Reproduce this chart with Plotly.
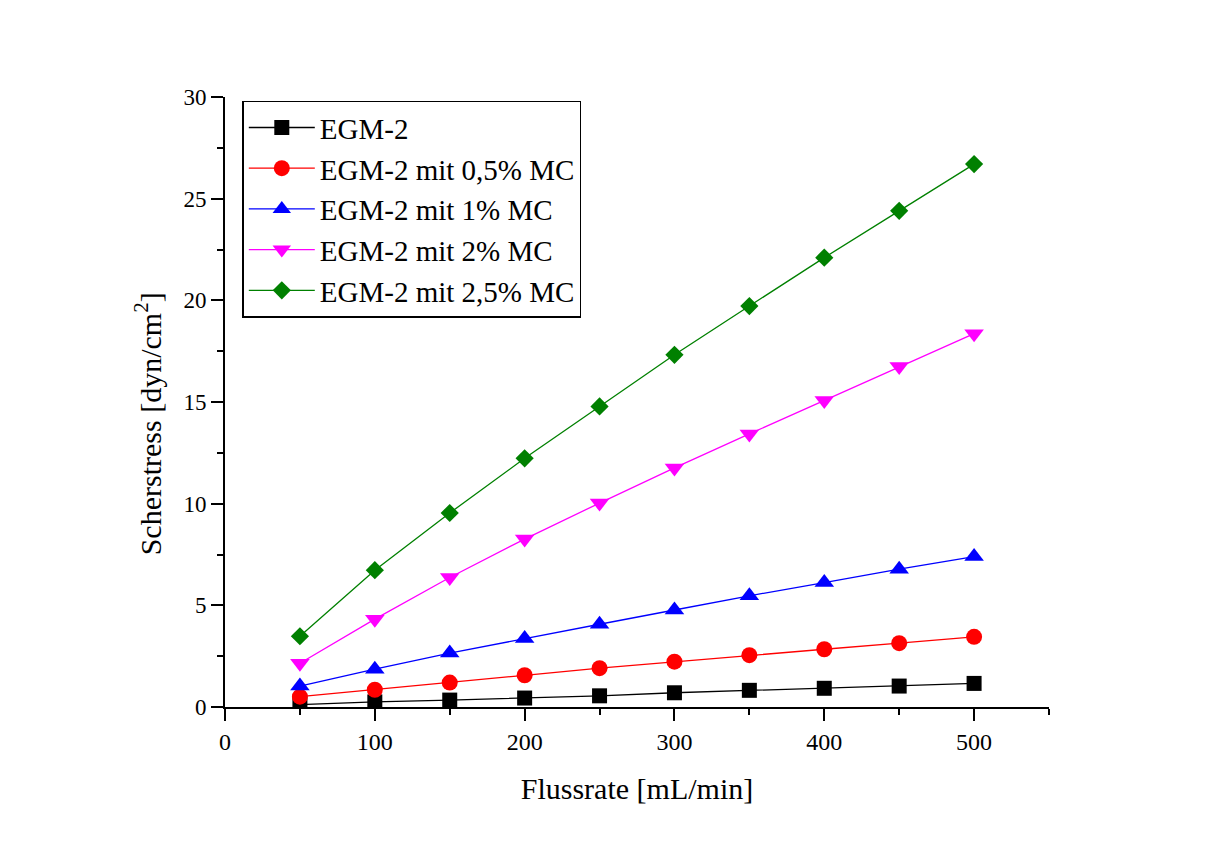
import plotly.graph_objects as go

# Flow rate (mL/min) and shear stress (dyn/cm²) for each medium
flussrate = [50, 100, 150, 200, 250, 300, 350, 400, 450, 500]

egm2 = [0.12, 0.25, 0.34, 0.44, 0.55, 0.70, 0.82, 0.92, 1.03, 1.16]
egm2_05mc = [0.51, 0.85, 1.20, 1.56, 1.91, 2.23, 2.55, 2.84, 3.14, 3.45]
egm2_1mc = [1.03, 1.86, 2.65, 3.37, 4.07, 4.77, 5.47, 6.12, 6.78, 7.40]
egm2_2mc = [2.15, 4.32, 6.37, 8.26, 10.03, 11.76, 13.43, 15.07, 16.75, 18.36]
egm2_25mc = [3.48, 6.73, 9.54, 12.23, 14.78, 17.32, 19.72, 22.10, 24.40, 26.70]

series_names = [
    "EGM-2",
    "EGM-2 mit 0,5% MC",
    "EGM-2 mit 1% MC",
    "EGM-2 mit 2% MC",
    "EGM-2 mit 2,5% MC",
]
series_values = [egm2, egm2_05mc, egm2_1mc, egm2_2mc, egm2_25mc]
colors = ["#000000", "#FF0000", "#0000FF", "#FF00FF", "#008000"]
symbols = ["square", "circle", "triangle-up", "triangle-down", "diamond"]
sizes = [15, 16, 17, 17, 14]

FONT = "Liberation Serif, Times New Roman, serif"

fig = go.Figure()
for name, vals, col, sym, sz in zip(series_names, series_values, colors, symbols, sizes):
    fig.add_trace(go.Scatter(
        x=flussrate, y=vals, name=name, mode="lines+markers",
        line=dict(color=col, width=1.3),
        marker=dict(symbol=sym, size=sz, color=col, line=dict(width=0)),
    ))

axis_common = dict(
    showline=True, linecolor="black", linewidth=2,
    ticks="outside", ticklen=12, tickwidth=2, tickcolor="black",
    showgrid=False, zeroline=False, mirror=False,
)

fig.update_xaxes(
    range=[0, 550], dtick=100, tick0=0,
    minor=dict(ticks="outside", ticklen=6, tickwidth=2, tickcolor="black", dtick=50, tick0=0),
    tickfont=dict(family=FONT, size=24, color="black"),
    title=dict(text="Flussrate [mL/min]", font=dict(family=FONT, size=30, color="black"), standoff=24),
    **axis_common,
)
fig.update_yaxes(
    range=[0, 30], dtick=5, tick0=0,
    minor=dict(ticks="outside", ticklen=6, tickwidth=2, tickcolor="black", dtick=2.5, tick0=0),
    tickfont=dict(family=FONT, size=23, color="black"),
    **axis_common,
)

# y-axis title
fig.add_annotation(
    text="Scherstress [dyn/cm<sup>2</sup>]",
    xref="paper", yref="paper", x=-0.093, y=0.464,
    xanchor="center", yanchor="middle", textangle=-90, showarrow=False,
    font=dict(family=FONT, size=30, color="black"),
)

fig.update_layout(
    width=1209, height=843,
    margin=dict(l=225, r=160, t=97, b=136, autoexpand=False),
    paper_bgcolor="white", plot_bgcolor="white",
    showlegend=True,
    legend=dict(
        x=0.021, y=0.994, xanchor="left", yanchor="top",
        bgcolor="white", bordercolor="black", borderwidth=1.5,
        font=dict(family=FONT, size=29, color="black"),
        itemwidth=66, tracegroupgap=0,
    ),
)

fig.write_html("out.html")
